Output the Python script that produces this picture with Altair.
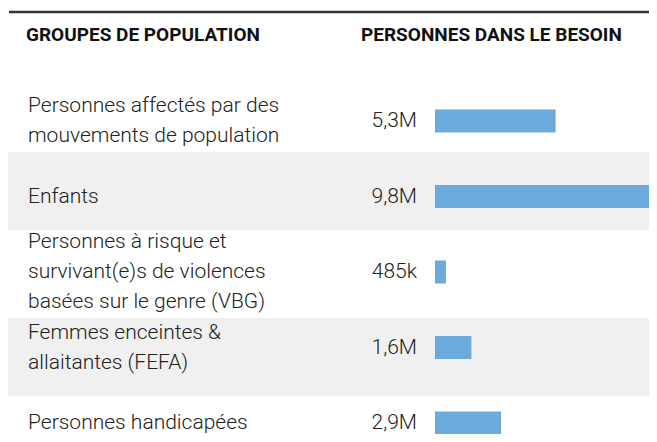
import altair as alt
import pandas as pd

# ---- data ----
groups = [
    "Personnes affectés par des\nmouvements de population",
    "Enfants",
    "Personnes à risque et\nsurvivant(e)s de violences\nbasées sur le genre (VBG)",
    "Femmes enceintes &\nallaitantes (FEFA)",
    "Personnes handicapées",
]
values_m = [5.3, 9.8, 0.485, 1.6, 2.9]
value_labels = ["5,3M", "9,8M", "485k", "1,6M", "2,9M"]
columns = ["GROUPES DE POPULATION", "PERSONNES DANS LE BESOIN"]

df = pd.DataFrame({"group": groups, "value": values_m, "vlabel": value_labels})

W, H = 641, 426
FONT = "Roboto"
LH = 30
STEP = 75.5
Y0 = 75.25

yscale = alt.Scale(domain=groups, range=[Y0, Y0 + STEP * len(groups)],
                   paddingInner=0, paddingOuter=0)
Y = alt.Y("group:N", sort=groups, scale=yscale, axis=None)
xscale = alt.Scale(domain=[0, max(values_m)], range=[427, 650], zero=True, nice=False)

# row background bands (table rows)
BSTEP, BPAD, BY0 = 83, 0.06, 61
band_scale = alt.Scale(domain=groups,
                       range=[BY0, BY0 + BSTEP * (len(groups) - BPAD)],
                       paddingInner=BPAD, paddingOuter=0)

base = alt.Chart(df)

bands = (
    base.transform_window(idx="row_number()")
    .transform_filter("datum.idx % 2 == 0")
    .mark_rect(color="#f0f0f0")
    .encode(y=alt.Y("group:N", sort=groups, scale=band_scale, axis=None),
            x=alt.value(-1), x2=alt.value(W))
)

rule = (
    alt.Chart(pd.DataFrame({"r": [0]}))
    .mark_rule(color="#333333", strokeWidth=2.5)
    .encode(x=alt.value(1), x2=alt.value(W), y=alt.value(4))
)

hdr1 = (
    alt.Chart(pd.DataFrame({"h": [columns[0]]}))
    .mark_text(align="left", baseline="alphabetic", font=FONT, fontWeight="bold",
               fontSize=19, color="#111111")
    .encode(text="h:N", x=alt.value(18), y=alt.value(33))
)
hdr2 = (
    alt.Chart(pd.DataFrame({"h": [columns[1]]}))
    .mark_text(align="left", baseline="alphabetic", font=FONT, fontWeight="bold",
               fontSize=19, color="#111111")
    .encode(text="h:N", x=alt.value(353), y=alt.value(33))
)

labels = (
    base.transform_calculate(
        off=f"{STEP / 2} - (split(datum.group, '\\n').length - 1) * {LH / 2}")
    .mark_text(align="left", baseline="middle", lineBreak="\n", lineHeight=LH,
               font=FONT, fontWeight=300, fontSize=21, color="#222222")
    .encode(y=Y, yOffset=alt.YOffset("off:Q", scale=None), x=alt.value(20), text="group:N")
)

vals = base.mark_text(
    align="right", baseline="middle", font=FONT, fontWeight=300, fontSize=21,
    color="#222222"
).encode(y=Y, x=alt.value(409), text="vlabel:N")

bars = base.mark_bar(size=23, color="#6daadc").encode(
    y=Y, x=alt.X("value:Q", scale=xscale, axis=None)
)

content = alt.layer(rule, hdr1, hdr2, labels, vals, bars)

chart = (
    alt.layer(bands, content)
    .resolve_scale(y="independent")
    .properties(width=W, height=H, padding=0, autosize=alt.AutoSizeParams(type="none"),
                background="white")
    .configure_view(stroke=None)
)

chart.save("out.html", embed_options={"renderer": "svg", "actions": False})
